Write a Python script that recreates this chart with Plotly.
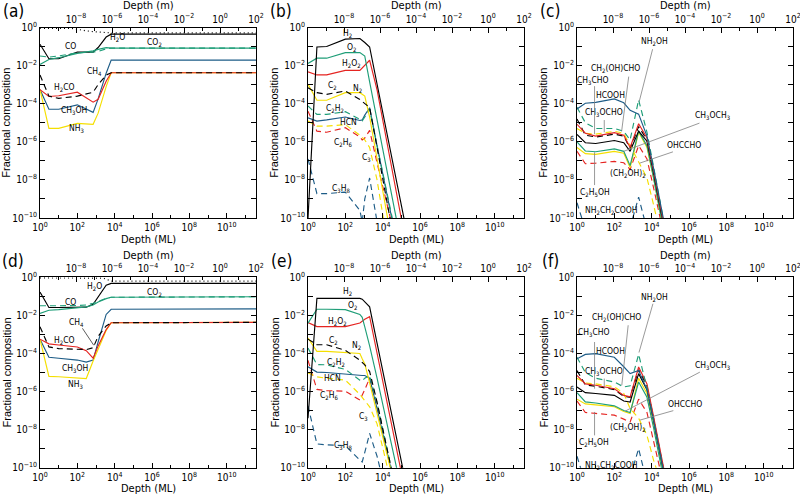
import plotly.graph_objects as go

# ---------------- colours ----------------
BLACK = '#000000'
GREEN = '#1f9e78'
RED = '#e52421'
BLUE = '#1d5c87'
YELLOW = '#f5df00'
GREY = '#7f7f7f'

# ---------------- ticks ----------------
ML_TICKS = [1e0, 1e2, 1e4, 1e6, 1e8, 1e10]
ML_TICKTEXT = ['10<sup>0</sup>', '10<sup>2</sup>', '10<sup>4</sup>', '10<sup>6</sup>', '10<sup>8</sup>', '10<sup>10</sup>']
ML_MINOR = [1e1, 1e3, 1e5, 1e7, 1e9, 1e11]
M_TICKS = [1e-8, 1e-6, 1e-4, 1e-2, 1e0, 1e2]
M_TICKTEXT = ['10<sup>−8</sup>', '10<sup>−6</sup>', '10<sup>−4</sup>', '10<sup>−2</sup>', '10<sup>0</sup>', '10<sup>2</sup>']
M_MINOR = [1e-9, 1e-7, 1e-5, 1e-3, 1e-1, 1e1]
Y_TICKS = [1e0, 1e-2, 1e-4, 1e-6, 1e-8, 1e-10]
Y_TICKTEXT = ['10<sup>0</sup>', '10<sup>−2</sup>', '10<sup>−4</sup>', '10<sup>−6</sup>', '10<sup>−8</sup>', '10<sup>−10</sup>']
Y_MINOR = [1e-1, 1e-3, 1e-5, 1e-7, 1e-9]

# ---------------- panel (a) ----------------
A_ML = [1, 3, 10, 100, 700, 1300, 3500, 6500, 4e11]
A_TOT_ML = [1, 50, 500, 3000, 6500, 4e11]
A_TOTAL = [0.91, 0.89, 0.62, 0.53, 0.52, 0.52]
A_H2O = [0.132, 0.0229, 0.0229, 0.0513, 0.0513, 0.0891, 0.316, 0.447, 0.447]
A_CO2 = [0.0115, 0.021, 0.026, 0.044, 0.059, 0.071, 0.087, 0.083, 0.083]
A_CO = [0.032, 0.028, 0.032, 0.047, 0.051, 0.056, 0.076, 0.083, 0.083]
A_CH3OH = [5.5e-4, 5.1e-5, 5.1e-5, 8.7e-5, 3.5e-5, 1.8e-4, 4.0e-3, 0.0195, 0.0195]
A_H2CO = [5.5e-4, 2.4e-4, 2.6e-4, 4.0e-4, 1.2e-4, 1.7e-4, 1.5e-3, 4.2e-3, 4.2e-3]
A_CH4 = [3.2e-3, 2.5e-4, 1.9e-4, 2.5e-4, 4.0e-4, 1.0e-3, 3.2e-3, 4.2e-3, 4.2e-3]
A_NH3 = [5.5e-4, 5.1e-6, 5.1e-6, 9.3e-6, 8.3e-6, 3.2e-5, 7.9e-4, 4.2e-3, 4.2e-3]

# ---------------- panel (d) ----------------
D_ML = [1, 3, 10, 100, 300, 700, 1300, 3500, 6500, 4e11]
D_TOT_ML = [1, 2500, 6500, 4e11]
D_TOTAL = [0.93, 0.90, 0.63, 0.63]
D_H2O = [0.166, 0.026, 0.026, 0.026, 0.027, 0.038, 0.095, 0.38, 0.48, 0.48]
D_CO2 = [0.0126, 0.0186, 0.020, 0.025, 0.028, 0.035, 0.050, 0.076, 0.089, 0.095]
D_CO = [0.032, 0.031, 0.032, 0.033, 0.035, 0.043, 0.056, 0.079, 0.089, 0.095]
D_CH3OH = [5.6e-4, 6.3e-5, 5.6e-5, 4.5e-5, 3.5e-5, 4.5e-5, 4.0e-4, 0.0112, 0.0209, 0.0219]
D_H2CO = [5.6e-4, 3.2e-4, 2.8e-4, 2.2e-4, 1.4e-4, 5.6e-5, 2.5e-4, 1.8e-3, 4.1e-3, 4.3e-3]
D_CH4 = [2.5e-3, 2.2e-4, 1.8e-4, 1.7e-4, 1.6e-4, 2.0e-4, 8.0e-4, 2.8e-3, 4.1e-3, 4.3e-3]
D_NH3 = [5.6e-4, 6.3e-6, 6.0e-6, 5.0e-6, 4.8e-6, 4.0e-5, 1.6e-4, 1.6e-3, 4.1e-3, 4.3e-3]

# ---------------- panel (b) ----------------
B_ML = [1, 3, 10, 100, 600, 800, 1100, 2000, 5000, 12600, 31600, 79400, 2e5]
B_H2 = [1e-10, 0.095, 0.1, 0.245, 0.263, 0.219, 0.162, 0.095, 1.05e-3, 1.15e-5, 1.26e-7, 1.38e-9, 1.58e-11]
B_O2 = [0.0129, 0.0245, 0.0245, 0.0479, 0.0479, 0.0398, 0.0316, 1.41e-3, 1.38e-5, 1.35e-7, 1.32e-9, 1.26e-11, 1.26e-13]
B_H2O2 = [4.68e-3, 3.24e-3, 3.24e-3, 5.62e-3, 5.62e-3, 7.59e-3, 0.01, 0.0191, 5.25e-4, 4.37e-6, 3.63e-8, 3.16e-10, 2.5e-12]
B_C2 = [6.9e-4, 3.8e-4, 3.09e-4, 4.68e-4, 1.66e-4, 1.32e-4, 1.07e-4, 6.31e-5, 5.01e-7, 3.98e-9, 2.51e-11, 1e-12, 1e-12]
B_N2 = [1.05e-3, 1.51e-4, 1.51e-4, 3.8e-4, 3.8e-4, 3.16e-4, 2.51e-4, 2.0e-5, 1.26e-7, 7.94e-10, 5.01e-12, 1e-12, 1e-12]
B_C2H2 = [7.59e-5, 2.75e-5, 2.75e-5, 3.8e-5, 1.51e-5, 1.26e-5, 2.0e-5, 5.01e-5, 6.31e-7, 7.94e-9, 1.12e-10, 1.58e-12, 1e-12]
B_HCN = [1.82e-5, 1.23e-5, 1.41e-5, 2.0e-5, 1.32e-5, 1.41e-5, 2.51e-5, 6.17e-5, 6.31e-7, 6.31e-9, 6.31e-11, 1e-12, 1e-12]
B_C3 = [1.23e-5, 6.61e-6, 6.61e-6, 7.94e-6, 2.24e-6, 1.62e-6, 1.26e-6, 5.01e-7, 1e-8, 3.98e-11, 1e-12, 1e-12, 1e-12]
B_C2H6 = [4.07e-5, 3.63e-6, 3.16e-6, 5.5e-6, 1.78e-6, 1.26e-6, 1.58e-6, 3.98e-6, 7.94e-8, 1.58e-9, 3.16e-11, 1e-12, 1e-12]
B_C3H8 = [1.26e-7, 1.91e-9, 1.91e-9, 2.29e-9, 2.51e-10, 6.31e-11, 1e-9, 1.26e-8, 6.31e-11, 1e-12, 1e-12, 1e-12, 1e-12]

# ---------------- panel (e) ----------------
E_ML = [1, 3, 10, 100, 600, 800, 1100, 2000, 5000, 12600, 31600, 79400, 2e5]
E_H2 = [3.98e-8, 0.0776, 0.0776, 0.0776, 0.0776, 0.0708, 0.0501, 0.0282, 3.47e-4, 4.27e-6, 5.25e-8, 6.46e-10, 7.94e-12]
E_O2 = [3.89e-3, 0.0209, 0.0209, 0.02, 0.0112, 7.94e-3, 2.51e-3, 2.51e-4, 5.01e-6, 7.94e-8, 1.26e-9, 2.0e-11, 1e-12]
E_H2O2 = [4.17e-3, 2.57e-3, 2.57e-3, 2.57e-3, 3.98e-3, 5.01e-3, 6.31e-3, 8.51e-3, 1e-4, 1.26e-6, 1.38e-8, 1.74e-10, 2.0e-12]
E_C2 = [5.62e-4, 2.88e-4, 2.88e-4, 1.45e-4, 4.47e-5, 3.39e-5, 2.51e-5, 1.12e-5, 2.82e-7, 3.98e-9, 5.62e-11, 1e-12, 1e-12]
E_N2 = [6.46e-4, 1.29e-4, 1.29e-4, 1.12e-4, 1e-4, 5.25e-5, 2.82e-5, 2.88e-6, 5.37e-8, 1e-9, 2e-11, 1e-12, 1e-12]
E_C2H2 = [1.91e-4, 2.63e-5, 2.51e-5, 1.45e-5, 3.98e-6, 3.55e-6, 5.01e-6, 7.08e-6, 2.51e-7, 3.98e-9, 6.31e-11, 1e-12, 1e-12]
E_HCN = [2.0e-5, 1.05e-5, 1e-5, 7.94e-6, 6.92e-6, 6.92e-6, 6.92e-6, 5.01e-6, 1.26e-7, 2.51e-9, 5.01e-11, 1e-12, 1e-12]
E_C3 = [9.55e-6, 5.89e-6, 5.01e-6, 3.98e-6, 7.08e-7, 5.01e-7, 3.16e-7, 1.58e-7, 2.0e-8, 6.31e-10, 1e-11, 1e-12, 1e-12]
E_C2H6 = [4.37e-5, 1.29e-6, 1.12e-6, 1.05e-6, 3.55e-7, 6.31e-7, 1.26e-6, 5.01e-6, 1.58e-7, 2.51e-9, 3.98e-11, 1e-12, 1e-12]
E_C3H8 = [1.78e-7, 1.78e-9, 1.58e-9, 1.45e-9, 2.51e-10, 2.0e-10, 6.31e-10, 6.31e-9, 3.98e-10, 1e-11, 1e-12, 1e-12, 1e-12]

# ---------------- panel (c) ----------------
C_ML = [1, 2.8, 10, 100, 320, 700, 2000, 5600, 12600, 31600, 79400]
C_HCOOH = [5.25e-5, 1.05e-4, 1.17e-4, 1.78e-4, 1.12e-4, 4.47e-5, 2.82e-5, 2.0e-6, 3.98e-8, 3.98e-10, 3.98e-12]
C_NH2OH = [6.46e-5, 1e-5, 5.01e-6, 5.01e-6, 3.55e-6, 1.26e-6, 1.58e-4, 3.16e-6, 5.01e-8, 3.98e-10, 3.16e-12]
C_CH3CHO = [8.32e-6, 2.82e-6, 2.0e-6, 3.02e-6, 2.24e-6, 5.01e-7, 8.91e-6, 1.58e-6, 3.16e-8, 2.51e-10, 2.51e-12]
C_CH3OCHO = [1.58e-5, 2.24e-6, 1.78e-6, 2.51e-6, 2.0e-6, 4.47e-7, 6.31e-6, 1.26e-6, 2.51e-8, 2.0e-10, 2.0e-12]
C_OHCCHO = [5.01e-6, 2.82e-6, 2.51e-6, 3.55e-6, 2.82e-6, 6.31e-7, 1e-7, 1.26e-8, 5.01e-10, 1e-11, 1e-12]
C_CH3OCH3 = [2.45e-6, 8.91e-7, 8.13e-7, 1.17e-6, 8.91e-7, 3.16e-7, 3.63e-6, 1.07e-6, 2.51e-8, 2.0e-10, 2.0e-12]
C_C2H5OH = [1e-6, 3.31e-7, 3.02e-7, 4.27e-7, 3.16e-7, 5.62e-8, 3.63e-6, 6.31e-7, 1.26e-8, 1e-10, 1e-12]
C_CH2OHCHO = [5.01e-7, 2.4e-7, 2.19e-7, 3.16e-7, 2.51e-7, 4.47e-8, 3.16e-6, 5.01e-7, 1.26e-8, 1e-10, 1e-12]
C_CH2OH2 = [3.16e-7, 7.08e-8, 7.59e-8, 9.33e-8, 7.94e-8, 3.55e-8, 6.31e-7, 1.26e-7, 3.98e-9, 3.98e-11, 1e-12]
C_GLY = [6.31e-10, 2.51e-11, 1e-11, 1e-11, 1e-11, 3.16e-11, 1.26e-9, 2.51e-11, 1e-12, 1e-12, 1e-12]

# ---------------- panel (f) ----------------
F_ML = [1, 2.8, 10, 100, 320, 700, 2000, 5600, 12600, 31600, 79400]
F_HCOOH = [5.25e-5, 8.91e-5, 9.77e-5, 6.31e-5, 2.0e-5, 8.71e-6, 1.29e-5, 1.26e-6, 3.16e-8, 3.16e-10, 3.16e-12]
F_NH2OH = [6.31e-5, 1e-5, 5.01e-6, 3.16e-6, 1.74e-6, 2.0e-6, 8.91e-5, 1.58e-6, 3.16e-8, 3.16e-10, 3.16e-12]
F_CH3CHO = [7.08e-6, 2.51e-6, 2.14e-6, 1.41e-6, 6.31e-7, 5.25e-7, 1.95e-5, 2.51e-6, 5.01e-8, 5.01e-10, 5.01e-12]
F_CH3OCHO = [1.26e-5, 2.24e-6, 1.91e-6, 1.26e-6, 5.62e-7, 5.01e-7, 1.41e-5, 2.0e-6, 3.98e-8, 3.98e-10, 3.98e-12]
F_OHCCHO = [5.01e-6, 2.82e-6, 2.51e-6, 1.78e-6, 7.94e-7, 1.26e-7, 3.98e-8, 5.01e-9, 2.51e-10, 1e-11, 1e-12]
F_CH3OCH3 = [1.74e-6, 8.71e-7, 7.94e-7, 6.31e-7, 3.16e-7, 2.82e-7, 8.71e-6, 1.26e-6, 3.16e-8, 3.16e-10, 3.16e-12]
F_CH2OHCHO = [3.98e-7, 2.24e-7, 2.0e-7, 1.58e-7, 8.91e-8, 7.08e-8, 5.01e-6, 7.94e-7, 2.0e-8, 2.0e-10, 2.0e-12]
F_C2H5OH = [8.71e-7, 2.88e-7, 2.51e-7, 1.78e-7, 1e-7, 7.94e-8, 3.16e-6, 5.01e-7, 1.26e-8, 1.26e-10, 1.26e-12]
F_CH2OH2 = [3.16e-7, 7.94e-8, 7.08e-8, 5.75e-8, 3.55e-8, 2.51e-8, 3.98e-7, 7.94e-8, 2.51e-9, 2.51e-11, 1e-12]
F_GLY = [3.98e-10, 1.58e-11, 1e-11, 1e-11, 1e-11, 3.16e-11, 1e-9, 1.58e-11, 1e-12, 1e-12, 1e-12]

SOLID, DASH, DOT = 'solid', '6px,4px', '1px,3px'

SERIES = [
    # panel, x, y, colour, dash
    (1, A_TOT_ML, A_TOTAL, BLACK, DOT),
    (1, A_ML, A_H2O, BLACK, SOLID),
    (1, A_ML, A_CO2, GREEN, SOLID),
    (1, A_ML, A_CO, GREEN, DASH),
    (1, A_ML, A_CH3OH, BLUE, SOLID),
    (1, A_ML, A_NH3, YELLOW, SOLID),
    (1, A_ML, A_H2CO, RED, SOLID),
    (1, A_ML, A_CH4, BLACK, DASH),
    (4, D_TOT_ML, D_TOTAL, BLACK, DOT),
    (4, D_ML, D_H2O, BLACK, SOLID),
    (4, D_ML, D_CO2, GREEN, SOLID),
    (4, D_ML, D_CO, GREEN, DASH),
    (4, D_ML, D_CH3OH, BLUE, SOLID),
    (4, D_ML, D_NH3, YELLOW, SOLID),
    (4, D_ML, D_H2CO, RED, SOLID),
    (4, D_ML, D_CH4, BLACK, DASH),
    (2, B_ML, B_C3H8, BLUE, DASH),
    (2, B_ML, B_C2H6, RED, DASH),
    (2, B_ML, B_C3, YELLOW, DASH),
    (2, B_ML, B_HCN, BLUE, SOLID),
    (2, B_ML, B_C2H2, GREEN, DASH),
    (2, B_ML, B_N2, YELLOW, SOLID),
    (2, B_ML, B_C2, BLACK, DASH),
    (2, B_ML, B_H2O2, RED, SOLID),
    (2, B_ML, B_O2, GREEN, SOLID),
    (2, B_ML, B_H2, BLACK, SOLID),
    (5, E_ML, E_C3H8, BLUE, DASH),
    (5, E_ML, E_C2H6, RED, DASH),
    (5, E_ML, E_C3, YELLOW, DASH),
    (5, E_ML, E_HCN, BLUE, SOLID),
    (5, E_ML, E_C2H2, GREEN, DASH),
    (5, E_ML, E_N2, YELLOW, SOLID),
    (5, E_ML, E_C2, BLACK, DASH),
    (5, E_ML, E_H2O2, RED, SOLID),
    (5, E_ML, E_O2, GREEN, SOLID),
    (5, E_ML, E_H2, BLACK, SOLID),
    (3, C_ML, C_GLY, BLUE, DASH),
    (3, C_ML, C_CH2OH2, RED, DASH),
    (3, C_ML, C_CH2OHCHO, YELLOW, SOLID),
    (3, C_ML, C_C2H5OH, GREEN, SOLID),
    (3, C_ML, C_CH3OCH3, BLACK, SOLID),
    (3, C_ML, C_OHCCHO, YELLOW, DASH),
    (3, C_ML, C_CH3OCHO, BLACK, DASH),
    (3, C_ML, C_CH3CHO, RED, SOLID),
    (3, C_ML, C_NH2OH, GREEN, DASH),
    (3, C_ML, C_HCOOH, BLUE, SOLID),
    (6, F_ML, F_GLY, BLUE, DASH),
    (6, F_ML, F_CH2OH2, RED, DASH),
    (6, F_ML, F_CH2OHCHO, YELLOW, SOLID),
    (6, F_ML, F_C2H5OH, GREEN, SOLID),
    (6, F_ML, F_CH3OCH3, BLACK, SOLID),
    (6, F_ML, F_OHCCHO, YELLOW, DASH),
    (6, F_ML, F_CH3OCHO, BLACK, DASH),
    (6, F_ML, F_CH3CHO, RED, SOLID),
    (6, F_ML, F_NH2OH, GREEN, DASH),
    (6, F_ML, F_HCOOH, BLUE, SOLID),
]

# species labels: (panel, text, log10 x, log10 y)
LABELS = [
    (1, 'H<sub>2</sub>O', 4.13, -0.53), (1, 'CO<sub>2</sub>', 6.13, -0.81), (1, 'CO', 1.62, -0.98),
    (1, 'CH<sub>4</sub>', 2.93, -2.33), (1, 'H<sub>2</sub>CO', 1.33, -3.17),
    (1, 'CH<sub>3</sub>OH', 1.82, -4.37), (1, 'NH<sub>3</sub>', 1.93, -5.32),
    (4, 'H<sub>2</sub>O', 2.93, -0.49), (4, 'CO<sub>2</sub>', 6.13, -0.81), (4, 'CO', 1.61, -1.3),
    (4, 'CH<sub>4</sub>', 1.95, -2.38), (4, 'H<sub>2</sub>CO', 1.33, -3.31),
    (4, 'CH<sub>3</sub>OH', 1.86, -4.77), (4, 'NH<sub>3</sub>', 1.92, -5.65),
    (2, 'H<sub>2</sub>', 2.12, -0.29), (2, 'O<sub>2</sub>', 2.33, -1.03), (2, 'H<sub>2</sub>O<sub>2</sub>', 2.33, -1.91),
    (2, 'C<sub>2</sub>', 1.33, -3.05), (2, 'N<sub>2</sub>', 2.66, -3.18), (2, 'C<sub>2</sub>H<sub>2</sub>', 1.45, -4.23),
    (2, 'HCN', 2.15, -4.96), (2, 'C<sub>2</sub>H<sub>6</sub>', 1.89, -6.02), (2, 'C<sub>3</sub>', 3.16, -6.85),
    (2, 'C<sub>3</sub>H<sub>8</sub>', 1.82, -8.46),
    (5, 'H<sub>2</sub>', 2.11, -0.75), (5, 'O<sub>2</sub>', 2.36, -1.49), (5, 'H<sub>2</sub>O<sub>2</sub>', 1.6, -2.3),
    (5, 'C<sub>2</sub>', 1.37, -3.3), (5, 'N<sub>2</sub>', 2.58, -3.57), (5, 'C<sub>2</sub>H<sub>2</sub>', 1.48, -4.46),
    (5, 'HCN', 1.33, -5.3), (5, 'C<sub>2</sub>H<sub>6</sub>', 1.13, -6.19), (5, 'C<sub>3</sub>', 2.95, -7.33),
    (5, 'C<sub>3</sub>H<sub>8</sub>', 1.92, -8.83),
    (3, 'NH<sub>2</sub>OH', 4.16, -0.74), (3, 'CH<sub>2</sub>(OH)CHO', 2.04, -2.16), (3, 'CH<sub>3</sub>CHO', 0.88, -2.78),
    (3, 'HCOOH', 1.77, -3.54), (3, 'CH<sub>3</sub>OCHO', 1.42, -4.46), (3, 'CH<sub>3</sub>OCH<sub>3</sub>', 7.26, -4.64),
    (3, 'OHCCHO', 5.75, -6.19), (3, '(CH<sub>2</sub>OH)<sub>2</sub>', 2.74, -7.65), (3, 'C<sub>2</sub>H<sub>5</sub>OH', 0.97, -8.67),
    (3, 'NH<sub>2</sub>CH<sub>2</sub>COOH', 1.86, -9.59),
    (6, 'NH<sub>2</sub>OH', 4.17, -1.05), (6, 'CH<sub>2</sub>(OH)CHO', 2.13, -2.09), (6, 'CH<sub>3</sub>CHO', 0.89, -2.91),
    (6, 'HCOOH', 1.78, -3.89), (6, 'CH<sub>3</sub>OCHO', 1.42, -4.94), (6, 'CH<sub>3</sub>OCH<sub>3</sub>', 7.28, -4.62),
    (6, 'OHCCHO', 5.77, -6.63), (6, '(CH<sub>2</sub>OH)<sub>2</sub>', 2.75, -7.91), (6, 'C<sub>2</sub>H<sub>5</sub>OH', 0.89, -8.67),
    (6, 'NH<sub>2</sub>CH<sub>2</sub>COOH', 1.83, -9.91),
]

# leader lines: (panel, log x start, log y start, log x end, log y end, colour)
LEADERS = [
    (4, 2.22, -2.6, 2.88, -3.57, '#333333'),
    (3, 4.07, -1.06, 3.33, -3.9, GREY), (3, 2.78, -2.5, 2.39, -5.45, GREY), (3, 0.94, -3.0, 0.94, -5.6, GREY),
    (3, 1.46, -4.78, 1.46, -5.5, GREY), (3, 6.64, -4.99, 2.5, -6.5, GREY), (3, 5.22, -6.5, 3.36, -7.12, GREY),
    (3, 0.94, -8.35, 0.94, -6.55, GREY),
    (6, 4.09, -1.31, 3.32, -3.95, GREY), (6, 2.75, -2.44, 2.4, -5.67, GREY), (6, 0.94, -3.32, 0.94, -5.85, GREY),
    (6, 1.46, -5.24, 1.46, -5.75, GREY), (6, 6.66, -4.94, 2.58, -7.03, GREY), (6, 5.24, -6.98, 3.37, -7.5, GREY),
    (6, 0.94, -8.38, 0.94, -7.07, GREY),
]

PANEL_LETTERS = ['(a)', '(b)', '(c)', '(d)', '(e)', '(f)']

# ---------------- layout geometry (pixels of an 800x495 canvas) ----------------
W, H = 800, 495
COLS = [(40, 256), (308, 524), (577, 793)]
ROWS = [(27.5, 218), (277.3, 467.7)]
NARROW = 'Liberation Sans Narrow, DejaVu Sans Condensed, Arial Narrow, Liberation Sans, sans-serif'
REG = 'Liberation Sans, Arial, sans-serif'


def ax_id(prefix, i):
    return prefix if i == 1 else f'{prefix}{i}'


fig = go.Figure()
for panel, xs, ys, col, dash in SERIES:
    fig.add_trace(go.Scatter(x=xs, y=ys, mode='lines', line=dict(color=col, width=1.15, dash=dash),
                             xaxis=ax_id('x', panel), yaxis=ax_id('y', panel),
                             showlegend=False, hoverinfo='skip'))
for p in range(1, 7):
    fig.add_trace(go.Scatter(x=[], y=[], xaxis=ax_id('x', p + 6), yaxis=ax_id('y', p), showlegend=False))

tickfont = dict(family=NARROW, size=10, color='black')
common = dict(showline=True, linecolor='black', linewidth=1, ticks='inside', ticklen=5, tickwidth=1,
              tickcolor='black', showgrid=False, zeroline=False, tickfont=tickfont, type='log',
              automargin=False, ticklabeloverflow='allow')
layout = dict(width=W, height=H, margin=dict(l=0, r=0, t=0, b=0, autoexpand=False), plot_bgcolor='white',
              paper_bgcolor='white', showlegend=False)
annotations = []


def paper_text(text, px, py, font, angle=0):
    return dict(text=text, x=px / W, y=1 - py / H, xref='paper', yref='paper', xanchor='center',
                yanchor='middle', showarrow=False, textangle=angle, font=font)


for p in range(1, 7):
    r, c = (p - 1) // 3, (p - 1) % 3
    x0, x1 = COLS[c]
    y0, y1 = ROWS[r]
    xd = [x0 / W, x1 / W]
    yd = [1 - y1 / H, 1 - y0 / H]
    layout[f'xaxis{p}'] = dict(common, domain=xd, anchor=ax_id('y', p), range=[0, 11.57], mirror=False,
                               tickmode='array', tickvals=ML_TICKS, ticktext=ML_TICKTEXT,
                               minor=dict(tickmode='array', tickvals=ML_MINOR, ticks='inside', ticklen=3,
                                          tickcolor='black', showgrid=False))
    layout[f'xaxis{p + 6}'] = dict(common, overlaying=ax_id('x', p), anchor=ax_id('y', p), side='top',
                                   range=[-10, 2], tickmode='array', tickvals=M_TICKS, ticktext=M_TICKTEXT,
                                   minor=dict(tickmode='array', tickvals=M_MINOR, ticks='inside', ticklen=3,
                                              tickcolor='black', showgrid=False))
    layout[f'yaxis{p}'] = dict(common, domain=yd, anchor=ax_id('x', p), range=[-10, 0], mirror='allticks',
                               tickmode='array', tickvals=Y_TICKS, ticktext=Y_TICKTEXT,
                               minor=dict(tickmode='array', tickvals=Y_MINOR, ticks='inside', ticklen=3,
                                          tickcolor='black', showgrid=False))
    cx = (x0 + x1) / 2
    annotations.append(paper_text('Depth (m)', cx, y0 - 21.5, dict(family=NARROW, size=11, color='black')))
    annotations.append(paper_text('Depth (ML)', cx, y1 + 21, dict(family=NARROW, size=11, color='black')))
    annotations.append(paper_text('Fractional composition', x0 - 34, (y0 + y1) / 2,
                                  dict(family=REG, size=11, color='black'), angle=-90))
    annotations.append(paper_text(PANEL_LETTERS[p - 1], x0 - 27, y0 - 16.5,
                                  dict(family=NARROW, size=17, color='black')))

for panel, txt, lx, ly in LABELS:
    annotations.append(dict(text=txt, x=lx, y=ly, xref=ax_id('x', panel), yref=ax_id('y', panel),
                            showarrow=False, font=dict(family=NARROW, size=8.5, color='black')))
for panel, sx, sy, ex, ey, col in LEADERS:
    annotations.append(dict(text='', x=ex, y=ey, ax=sx, ay=sy, xref=ax_id('x', panel), yref=ax_id('y', panel),
                            axref=ax_id('x', panel), ayref=ax_id('y', panel), showarrow=True, arrowhead=0,
                            arrowwidth=0.8, arrowcolor=col, standoff=0, startstandoff=0))
layout['annotations'] = annotations
fig.update_layout(**layout)
fig.write_html('out.html', config={'displayModeBar': False},
               post_script="document.body.style.margin='0px';document.body.style.overflow='hidden';")
